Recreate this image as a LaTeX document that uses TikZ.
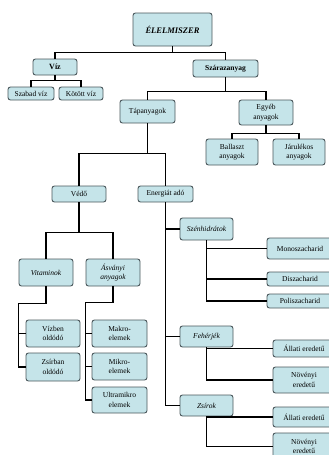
\documentclass[tikz,border=0pt]{standalone}
\usepackage{fontspec}
\setmainfont{Liberation Serif}
\definecolor{boxblue}{RGB}{197,228,233}
\definecolor{boxline}{RGB}{75,88,92}
\tikzset{box/.style={draw=boxline, fill=boxblue, line width=0.9pt, rounded corners=2.5pt, align=center, inner sep=0.5pt, font=\fontsize{7.5}{9.5}\selectfont},
link/.style={line width=1.1pt, black}}
\begin{document}
\begin{tikzpicture}[x=1pt, y=-1pt]
\useasboundingbox (0,0) rectangle (329,455);
\begin{scope}
\clip (0,0) rectangle (329,455);
\node[box, minimum width=79, minimum height=33, font=\fontsize{8.5}{10}\selectfont\bfseries\itshape] (elelmiszer) at (172.5,29.5){ÉLELMISZER};
\node[box, minimum width=44, minimum height=16, font=\fontsize{8}{10}\selectfont\bfseries] (viz) at (55,67){Víz};
\node[box, minimum width=65, minimum height=17, font=\fontsize{7.5}{10}\selectfont\bfseries] (szaraz) at (225.5,68.5){Szárazanyag};
\node[box, minimum width=46, minimum height=13] (szabad) at (31,93.5){Szabad víz};
\node[box, minimum width=44, minimum height=13] (kotott) at (81,93.5){Kötött víz};
\node[box, minimum width=55, minimum height=23] (tapanyag) at (147.5,111.5){Tápanyagok};
\node[box, minimum width=54, minimum height=25] (egyeb) at (266,112.5){Egyéb\\anyagok};
\node[box, minimum width=52, minimum height=26] (ballaszt) at (232,152){Ballaszt\\anyagok};
\node[box, minimum width=52, minimum height=26] (jarulekos) at (299,152){Járulékos\\anyagok};
\node[box, minimum width=54, minimum height=16] (vedo) at (79,194){Védő};
\node[box, minimum width=55, minimum height=16] (energia) at (165.5,194){Energiát adó};
\node[box, minimum width=54, minimum height=27, font=\fontsize{7.5}{9.5}\selectfont\itshape] (vitamin) at (46,272.5){Vitaminok};
\node[box, minimum width=54, minimum height=27, font=\fontsize{7.5}{9.5}\selectfont\itshape] (asvany) at (113,272.5){Ásványi\\anyagok};
\node[box, minimum width=54, minimum height=27] (vizben) at (53,333.5){Vízben\\oldódó};
\node[box, minimum width=54, minimum height=28] (zsirban) at (53,367){Zsírban\\oldódó};
\node[box, minimum width=55, minimum height=27] (makro) at (119.5,333.5){Makro-\\elemek};
\node[box, minimum width=55, minimum height=27] (mikro) at (119.5,366.5){Mikro-\\elemek};
\node[box, minimum width=55, minimum height=26] (ultra) at (119.5,400){Ultramikro\\elemek};
\node[box, minimum width=53, minimum height=22, font=\fontsize{7.5}{9.5}\selectfont\itshape] (szenhidrat) at (206.5,229){Szénhidrátok};
\node[box, minimum width=66, minimum height=21] (mono) at (300,248.5){Monoszacharid};
\node[box, minimum width=66, minimum height=14] (disz) at (300,279){Diszacharid};
\node[box, minimum width=66, minimum height=14] (poli) at (300,301){Poliszacharid};
\node[box, minimum width=53, minimum height=21, font=\fontsize{7.5}{9.5}\selectfont\itshape] (feherje) at (206.5,336.5){Fehérjék};
\node[box, minimum width=62, minimum height=17] (allati1) at (304,348.5){Állati eredetű};
\node[box, minimum width=62, minimum height=26] (noveny1) at (304,380){Növényi\\eredetű};
\node[box, minimum width=53, minimum height=21, font=\fontsize{7.5}{9.5}\selectfont\itshape] (zsir) at (206.5,405.5){Zsírok};
\node[box, minimum width=62, minimum height=20] (allati2) at (304,417){Állati eredetű};
\node[box, minimum width=62, minimum height=27] (noveny2) at (304,446.5){Növényi\\eredetű};
\draw[link](elelmiszer.south) -- ++(0,6) -| (viz.north);
\draw[link](elelmiszer.south) -- ++(0,6) -| (szaraz.north);
\draw[link](viz.south) -- ++(0,5) -| (szabad.north);
\draw[link](viz.south) -- ++(0,5) -| (kotott.north);
\draw[link](szaraz.south) -- ++(0,14) -| (tapanyag.north);
\draw[link](szaraz.south) -- ++(0,14) -| (egyeb.north);
\draw[link](egyeb.south) -- ++(0,8) -| (ballaszt.north);
\draw[link](egyeb.south) -- ++(0,8) -| (jarulekos.north);
\draw[link](tapanyag.south) -- ++(0,30) -| (vedo.north);
\draw[link](tapanyag.south) -- ++(0,30) -| (energia.north);
\draw[link](vedo.south) -- ++(0,30) -| (vitamin.north);
\draw[link](vedo.south) -- ++(0,30) -| (asvany.north);
\draw[link](vitamin.south) -- ++(0,17) -| ([xshift=-7pt]zsirban.west) -- (zsirban.west);
\draw[link]([xshift=-7pt]vizben.west) -- (vizben.west);
\draw[link](asvany.south) -- ++(0,16) -| ([xshift=-6pt]ultra.west) -- (ultra.west);
\draw[link]([xshift=-6pt]makro.west) -- (makro.west);
\draw[link]([xshift=-6pt]mikro.west) -- (mikro.west);
\draw[link](energia.south) |- (zsir.west);
\draw[link](energia.south |- szenhidrat.west) -- (szenhidrat.west);
\draw[link](energia.south |- feherje.west) -- (feherje.west);
\draw[link](szenhidrat.south) |- (poli.west);
\draw[link](szenhidrat.south |- mono.west) -- (mono.west);
\draw[link](szenhidrat.south |- disz.west) -- (disz.west);
\draw[link](feherje.south) |- (noveny1.west);
\draw[link](feherje.south |- allati1.west) -- (allati1.west);
\draw[link](zsir.south) |- (noveny2.west);
\draw[link](zsir.south |- allati2.west) -- (allati2.west);
\end{scope}
\end{tikzpicture}
\end{document}
